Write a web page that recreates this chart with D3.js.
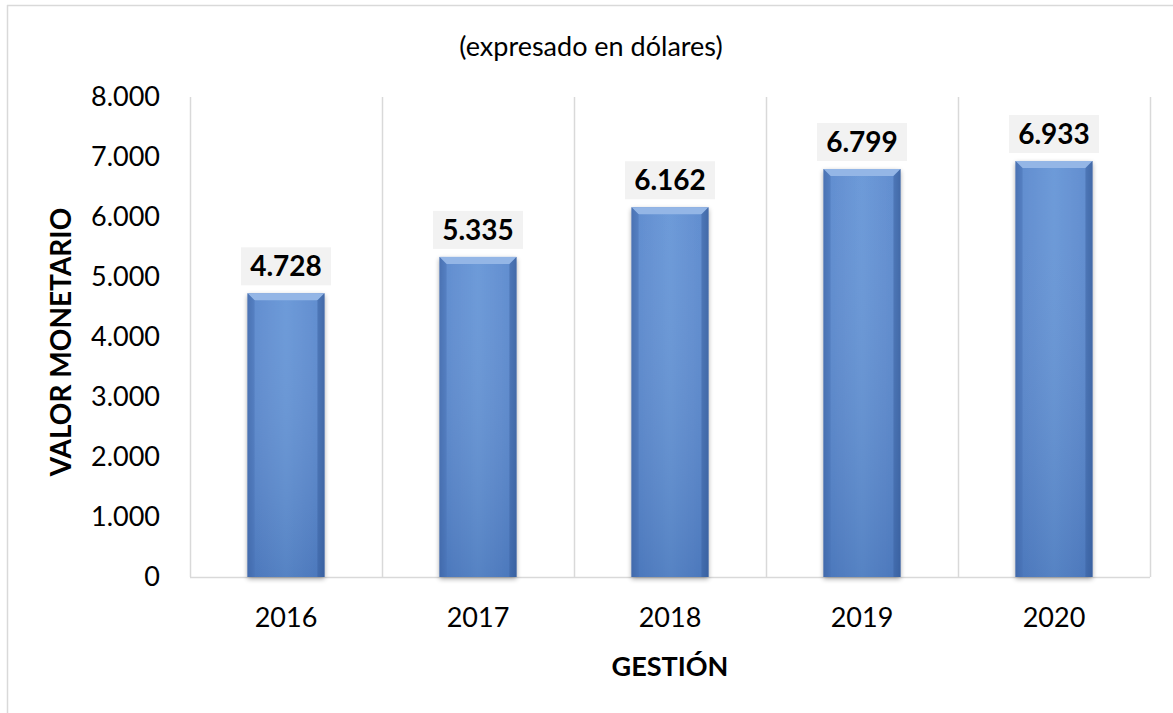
<!DOCTYPE html>
<html>
<head>
<meta charset="utf-8">
<script src="https://cdn.jsdelivr.net/npm/d3@7"></script>
<style>
  html, body { margin: 0; padding: 0; background: #fff; }
  svg { display: block; font-family: Lato, "Open Sans", sans-serif; }
</style>
</head>
<body>
<svg id="chart" width="1173" height="713"></svg>
<script>
// Annual monetary value, in dollars
const years = ["2016", "2017", "2018", "2019", "2020"];
const values = [4728, 5335, 6162, 6799, 6933];
const yTicks = [0, 1000, 2000, 3000, 4000, 5000, 6000, 7000, 8000];

const title = "(expresado en dólares)";
const xTitle = "GESTIÓN";
const yTitle = "VALOR MONETARIO";

const svg = d3.select("#chart");
const W = 1173, H = 713;
const plot = { left: 190, right: 1150, top: 97, bottom: 577 };
const FONT = "Lato, 'Open Sans', sans-serif";

// number format with dot as thousands separator
const fmt = d3.formatLocale({ decimal: ",", thousands: ".", grouping: [3], currency: ["$", ""] }).format(",.0f");

const x = d3.scaleBand().domain(years).range([plot.left, plot.right]).paddingInner(0).paddingOuter(0);
const y = d3.scaleLinear().domain([0, 8000]).range([plot.bottom, plot.top]);
const barW = 77;

// chart frame
svg.append("line").attr("x1", 7).attr("x2", W).attr("y1", 5.5).attr("y2", 5.5)
  .attr("stroke", "#d9d9d9").attr("stroke-width", 1.5);
svg.append("line").attr("x1", 7.5).attr("x2", 7.5).attr("y1", 5).attr("y2", H)
  .attr("stroke", "#d9d9d9").attr("stroke-width", 1.5);

// gradients for the bars
const defs = svg.append("defs");
const g = defs.append("linearGradient").attr("id", "barGrad").attr("x1", "0").attr("x2", "1").attr("y1", "0").attr("y2", "0");
[["0%", "#3f68a9"], ["10%", "#5887cd"], ["50%", "#6494d6"], ["90%", "#5887cd"], ["100%", "#3f68a9"]]
  .forEach(([o, c]) => g.append("stop").attr("offset", o).attr("stop-color", c));
const gv = defs.append("linearGradient").attr("id", "barShade").attr("x1", "0").attr("x2", "0").attr("y1", "0").attr("y2", "1");
gv.append("stop").attr("offset", "0%").attr("stop-color", "#ffffff").attr("stop-opacity", 0.06);
gv.append("stop").attr("offset", "100%").attr("stop-color", "#1f3f7a").attr("stop-opacity", 0.2);
const sh = defs.append("filter").attr("id", "shadow").attr("x", "-20%").attr("y", "-5%").attr("width", "140%").attr("height", "115%");
sh.append("feGaussianBlur").attr("in", "SourceAlpha").attr("stdDeviation", 2.5);
sh.append("feOffset").attr("dx", 0).attr("dy", 2).attr("result", "ob");
sh.append("feComponentTransfer").append("feFuncA").attr("type", "linear").attr("slope", 0.35);
const m = sh.append("feMerge");
m.append("feMergeNode");
m.append("feMergeNode").attr("in", "SourceGraphic");

// vertical gridlines at category boundaries
const bounds = years.map(d => x(d)).concat([plot.right]);
svg.append("g").selectAll("line").data(bounds).join("line")
  .attr("x1", d => Math.round(d) + 0.5).attr("x2", d => Math.round(d) + 0.5)
  .attr("y1", plot.top).attr("y2", plot.bottom)
  .attr("stroke", "#d9d9d9").attr("stroke-width", 1.5);

// baseline
svg.append("line").attr("x1", plot.left).attr("x2", plot.right)
  .attr("y1", y(0) + 0.5).attr("y2", y(0) + 0.5)
  .attr("stroke", "#d9d9d9").attr("stroke-width", 1.5);

// bars
const bars = svg.append("g").selectAll("g").data(years.map((d, i) => ({ year: d, value: values[i] }))).join("g");
const bx = d => x(d.year) + x.bandwidth() / 2 - barW / 2;
bars.append("rect")
  .attr("x", bx)
  .attr("y", d => y(d.value))
  .attr("width", barW)
  .attr("height", d => y(0) - y(d.value))
  .attr("fill", "url(#barGrad)")
  .attr("filter", "url(#shadow)");
bars.append("rect")
  .attr("x", bx)
  .attr("y", d => y(d.value))
  .attr("width", barW)
  .attr("height", d => y(0) - y(d.value))
  .attr("fill", "url(#barShade)");
// bevelled top and side edges
const bev = 7;
bars.append("path")
  .attr("d", d => {
    const x0 = bx(d), x1 = x0 + barW, t = y(d.value);
    return `M${x0},${t}L${x1},${t}L${x1 - bev},${t + bev}L${x0 + bev},${t + bev}Z`;
  })
  .attr("fill", "#94b6e6");
bars.append("path")
  .attr("d", d => {
    const x0 = bx(d), t = y(d.value);
    return `M${x0},${t}L${x0 + bev},${t + bev}L${x0 + bev},${y(0)}L${x0},${y(0)}Z`;
  })
  .attr("fill", "#4a74b8").attr("opacity", 0.5);
bars.append("path")
  .attr("d", d => {
    const x1 = bx(d) + barW, t = y(d.value);
    return `M${x1},${t}L${x1 - bev},${t + bev}L${x1 - bev},${y(0)}L${x1},${y(0)}Z`;
  })
  .attr("fill", "#3a62a2").attr("opacity", 0.5);

// value labels with light background
const lab = bars.append("g")
  .attr("transform", d => `translate(${x(d.year) + x.bandwidth() / 2},${y(d.value) - 27})`);
lab.append("rect").attr("x", -45).attr("y", -19).attr("width", 90).attr("height", 38).attr("fill", "#f2f2f2");
lab.append("text").attr("text-anchor", "middle").attr("dy", "0.36em")
  .attr("font-size", 28).attr("font-weight", "bold").attr("fill", "#000")
  .text(d => fmt(d.value));

// y axis labels
const yAxis = d3.axisLeft(y).tickValues(yTicks).tickFormat(fmt).tickSize(0).tickPadding(30);
const ya = svg.append("g").attr("transform", `translate(${plot.left},0)`).call(yAxis);
ya.select(".domain").remove();
ya.attr("font-size", 27).attr("font-family", FONT);
ya.selectAll("text").attr("fill", "#000");

// x axis labels
const xAxis = d3.axisBottom(x).tickSize(0).tickPadding(31);
const xa = svg.append("g").attr("transform", `translate(0,${plot.bottom})`).call(xAxis);
xa.select(".domain").remove();
xa.attr("font-size", 27).attr("font-family", FONT);
xa.selectAll("text").attr("fill", "#000");

// titles
svg.append("text").attr("x", 591).attr("y", 47).attr("text-anchor", "middle").attr("dy", "0.35em")
  .attr("font-size", 27).attr("fill", "#000").text(title);
svg.append("text").attr("x", 670).attr("y", 666).attr("text-anchor", "middle").attr("dy", "0.36em")
  .attr("font-size", 27).attr("font-weight", "bold").attr("fill", "#000").text(xTitle);
svg.append("text").attr("transform", "translate(61,342) rotate(-90)").attr("text-anchor", "middle").attr("dy", "0.36em")
  .attr("font-size", 28).attr("font-weight", "bold").attr("fill", "#000").text(yTitle);
</script>
</body>
</html>
